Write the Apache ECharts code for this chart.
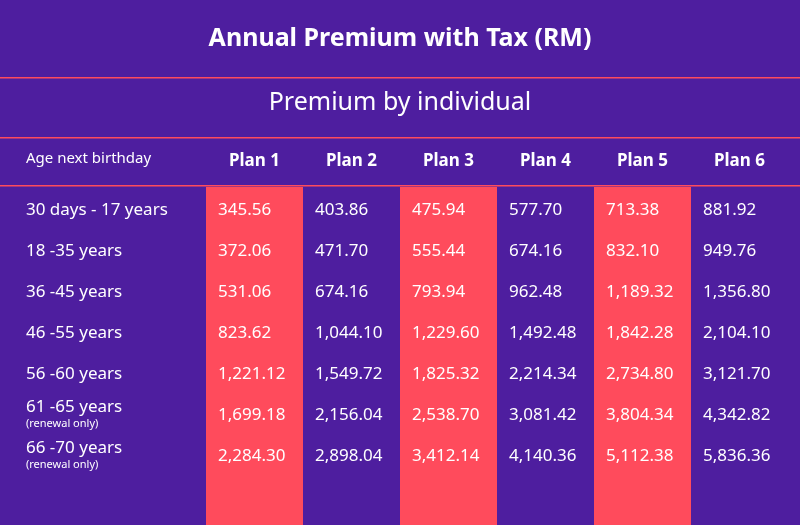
<!DOCTYPE html>
<html><head><meta charset="utf-8">
<script src="https://cdn.jsdelivr.net/npm/echarts@6/dist/echarts.min.js"></script>
<style>html,body{margin:0;background:#4e1e9f}#c{width:800px;height:525px}</style>
</head><body><div id="c"></div>
<script>
var plans = ['Plan 1', 'Plan 2', 'Plan 3', 'Plan 4', 'Plan 5', 'Plan 6'];
var ages = ['30 days - 17 years', '18 -35 years', '36 -45 years', '46 -55 years', '56 -60 years', '61 -65 years', '66 -70 years'];
var plan1 = ['345.56', '372.06', '531.06', '823.62', '1,221.12', '1,699.18', '2,284.30'];
var plan2 = ['403.86', '471.70', '674.16', '1,044.10', '1,549.72', '2,156.04', '2,898.04'];
var plan3 = ['475.94', '555.44', '793.94', '1,229.60', '1,825.32', '2,538.70', '3,412.14'];
var plan4 = ['577.70', '674.16', '962.48', '1,492.48', '2,214.34', '3,081.42', '4,140.36'];
var plan5 = ['713.38', '832.10', '1,189.32', '1,842.28', '2,734.80', '3,804.34', '5,112.38'];
var plan6 = ['881.92', '949.76', '1,356.80', '2,104.10', '3,121.70', '4,342.82', '5,836.36'];
var renewalRows = ['61 -65 years', '66 -70 years'];
var highlight = [1, 0, 1, 0, 1, 0];

var cols = [plan1, plan2, plan3, plan4, plan5, plan6];
var cells = [];
cols.forEach(function (col, i) {
	col.forEach(function (v, j) { cells.push([i, j, v]); });
});
var red = '#ff4b5c', font = 'Noto Sans';

var chart = echarts.init(document.getElementById('c'));
chart.setOption({
	backgroundColor: '#4e1e9f',
	textStyle: {fontFamily: font},
	grid: [
		{left: 206, right: 12, top: 190, bottom: 48},
		{left: 206, right: 12, top: 187, bottom: 0}
	],
	xAxis: [
		{type: 'category', data: plans, position: 'top', gridIndex: 0,
			axisLine: {show: false}, axisTick: {show: false},
			axisLabel: {color: '#fff', fontSize: 17, fontWeight: 'bold', margin: 20, fontFamily: font}},
		{type: 'category', data: plans, gridIndex: 1, show: false}
	],
	yAxis: [
		{type: 'category', data: ages, inverse: true, gridIndex: 0,
			axisLine: {show: false}, axisTick: {show: false}, splitLine: {show: false},
			axisLabel: {color: '#fff', fontSize: 17, align: 'left', margin: 180, lineHeight: 16, fontFamily: font,
				formatter: function (v) {
					return renewalRows.indexOf(v) >= 0 ? v + '\n{s|(renewal only)}' : v;
				},
				rich: {s: {fontSize: 11, color: '#fff', fontFamily: font}}}},
		{type: 'value', min: 0, max: 1, gridIndex: 1, show: false}
	],
	graphic: [
		{type: 'text', left: 'center', top: 26, style: {text: 'Annual Premium with Tax (RM)', fill: '#fff', fontSize: 25, fontWeight: 'bold', fontFamily: font}},
		{type: 'text', left: 'center', top: 90, style: {text: 'Premium by individual', fill: '#fff', fontSize: 25, fontFamily: font}},
		{type: 'text', left: 26, top: 151, style: {text: 'Age next birthday', fill: '#fff', fontSize: 15, fontFamily: font}},
		{type: 'rect', shape: {x: 0, y: 77, width: 800, height: 1.5}, style: {fill: red}},
		{type: 'rect', shape: {x: 0, y: 137, width: 800, height: 1.5}, style: {fill: red}},
		{type: 'rect', shape: {x: 0, y: 185, width: 800, height: 1.5}, style: {fill: red}}
	],
	series: [
		{type: 'bar', xAxisIndex: 1, yAxisIndex: 1, data: highlight, barWidth: '100%',
			itemStyle: {color: red}, silent: true},
		{type: 'custom', xAxisIndex: 0, yAxisIndex: 0, data: cells, z: 5,
			renderItem: function (params, api) {
				var p = api.coord([api.value(0), api.value(1)]);
				var w = api.size([1, 0])[0];
				return {type: 'text', x: p[0] - w / 2 + 12, y: p[1],
					style: {text: cells[params.dataIndex][2], fill: '#fff', fontSize: 17, fontFamily: font,
						verticalAlign: 'middle', align: 'left'}};
			}}
	]
});
</script></body></html>
